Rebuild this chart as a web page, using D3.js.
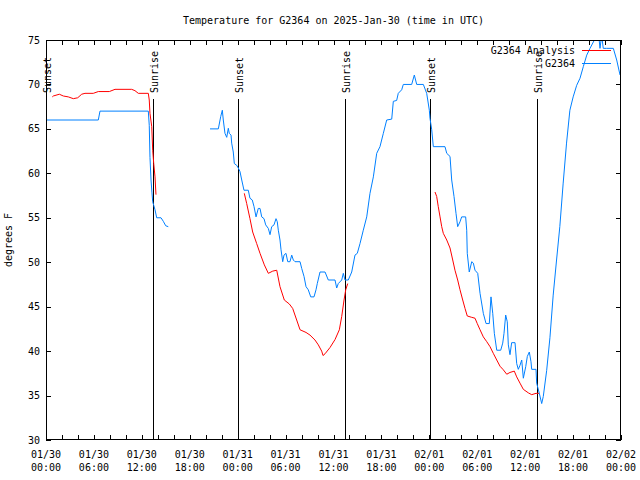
<!DOCTYPE html>
<html>
<head>
<meta charset="utf-8">
<script src="https://cdn.jsdelivr.net/npm/d3@7"></script>
<style>
  html, body { margin: 0; padding: 0; background: #fff; }
  text { font-family: "DejaVu Sans Mono", "Liberation Mono", monospace; fill: #000; }
</style>
</head>
<body>
<svg id="chart" width="640" height="480"></svg>
<script>
// ---- DATA (hours since 2025-01-30 00:00 UTC, temperatures in degrees F) ----
const title = "Temperature for G2364 on 2025-Jan-30 (time in UTC)";
const yLabel = "degrees F";
const yTicks = [30, 35, 40, 45, 50, 55, 60, 65, 70, 75];
const xTickHours = [0, 6, 12, 18, 24, 30, 36, 42, 48, 54, 60, 66, 72];
const xTickLabels = ["01/30\n00:00","01/30\n06:00","01/30\n12:00","01/30\n18:00","01/31\n00:00","01/31\n06:00","01/31\n12:00","01/31\n18:00","02/01\n00:00","02/01\n06:00","02/01\n12:00","02/01\n18:00","02/02\n00:00"];
const sunEventHours = [0.0, 13.45, 24.1, 37.48, 48.13, 61.42];
const sunEventNames = ["Sunset", "Sunrise", "Sunset", "Sunrise", "Sunset", "Sunrise"];
const seriesNames = ["G2364 Analysis", "G2364"];

// Analysis (red), three pieces
const analysis1Hours = [0.79,0.91,1.67,2.17,2.79,3.42,3.97,4.47,4.88,5.92,6.55,7.93,8.64,10.73,11.14,11.56,12.81,12.93,13.02,13.24,13.36,13.49,13.65,13.77];
const analysis1Temps = [68.6,68.7,68.9,68.7,68.6,68.4,68.5,68.9,69.0,69.0,69.2,69.2,69.45,69.45,69.3,69.0,69.0,68.25,66.75,65.25,62.6,61.1,59.6,57.6];
const analysis2Hours = [24.83,25.13,25.54,25.88,26.38,26.8,27.34,27.84,28.39,28.89,29.3,29.84,30.47,30.89,31.39,31.81,32.56,33.06,33.68,34.1,34.52,34.69,34.94,35.56,36.19,36.73,37.03,37.32,37.53,37.78];
const analysis2Temps = [57.75,56.6,54.9,53.4,52.1,51.0,49.7,48.75,49.0,49.1,47.25,45.75,45.3,44.8,43.5,42.4,42.1,41.8,41.25,40.7,40.0,39.5,39.7,40.4,41.3,42.4,43.9,45.75,46.9,47.6];
const analysis3Hours = [48.71,48.92,49.12,49.34,49.55,49.75,50.18,50.59,50.93,51.21,51.55,51.84,52.18,52.47,52.75,53.31,53.72,54.0,54.35,54.76,55.19,55.6,56.01,56.44,56.85,57.26,57.69,58.1,58.64,58.94,59.35,59.77,60.4,60.82,61.36,61.77];
const analysis3Temps = [57.9,57.4,56.25,55.1,54.0,53.25,52.5,51.6,50.25,49.1,48.0,46.9,45.75,44.8,43.95,43.8,43.7,43.1,42.4,41.6,41.06,40.5,39.75,39.0,38.3,37.9,37.4,37.6,37.75,37.1,36.4,35.7,35.3,35.1,35.25,35.25];

// Observations (blue), two pieces
const obs1Hours = [0,6.55,6.76,12.81,12.93,13.02,13.15,13.27,13.36,13.49,13.65,13.86,14.4,14.69,14.99,15.31];
const obs1Temps = [66,66,67,67,65.4,61.8,59.25,57.8,56.8,56.4,55.9,55.0,55.0,54.6,54.1,54.0];
const obs2Hours = [20.54,21.58,21.88,22.08,22.2,22.41,22.63,22.83,22.95,23.17,23.25,23.45,23.58,23.88,24.08,24.29,24.51,24.79,25.33,25.54,25.83,26.05,26.3,26.58,26.8,27.01,27.3,27.51,27.84,28.05,28.26,28.55,28.8,28.96,29.09,29.3,29.43,29.64,29.8,30.05,30.27,30.55,30.77,30.97,31.18,31.81,32.02,32.31,32.56,32.84,33.15,33.56,33.81,33.97,34.31,34.94,35.35,36.19,36.4,36.6,37.03,37.23,37.44,37.85,38.28,38.69,38.98,39.32,39.73,40.16,40.57,40.99,41.41,41.82,42.24,42.66,43.29,43.49,43.91,44.11,44.54,44.74,45.79,46.12,46.42,47.25,47.67,48.0,48.08,48.3,48.5,49.96,50.18,50.59,50.8,51.09,51.34,51.55,51.84,52.05,52.55,52.68,52.75,53.0,53.31,53.51,53.72,54.06,54.35,54.76,55.1,55.51,55.72,55.94,56.14,56.44,56.94,57.19,57.35,57.56,57.76,57.89,58.1,58.31,58.73,58.94,59.14,59.35,59.57,59.77,60.07,60.27,60.52,60.73,60.82,61.36,61.44,61.77,62.07,62.27,62.69,63.1,63.51,63.93,64.34,64.76,65.18,65.6,66.01,66.45,66.87,67.28,67.71,68.12,68.96,69.16,69.37,69.58,69.78,70.21,71.04,71.46,71.88];
const obs2Temps = [65,65,66.4,67.1,66.0,64.5,64.05,65.07,64.5,64.3,63.4,62.4,61.1,60.9,60.6,60.2,59.25,58.1,58.1,57.2,57.0,56.25,55.1,56.05,56.05,55.1,54.9,54.2,53.8,53.1,54.0,54.2,54.9,54.55,53.6,52.5,51.4,50.06,50.8,51.0,50.06,50.06,50.8,50.25,50.06,50.06,49.3,48.4,47.25,46.9,46.1,46.1,46.9,47.6,48.9,48.9,48.0,48.0,47.1,47.6,48.0,48.75,48.0,48.0,48.9,50.8,51.0,52.1,53.6,55.1,57.75,59.6,62.25,63.0,64.5,66.0,66.1,68.1,68.2,69.0,69.4,70.0,70.0,71.06,70.0,70.0,69.0,67.1,66.2,64.9,63.0,63.0,62.25,61.9,59.25,57.4,55.5,54.0,54.55,55.1,55.1,53.6,51.0,48.9,50.06,49.9,49.1,48.75,46.5,44.25,43.1,43.1,46.1,44.25,42.0,40.1,40.1,40.9,42.0,44.06,43.3,40.7,39.6,40.95,40.95,38.6,37.95,38.4,39.0,36.95,38.25,39.4,39.9,38.8,37.95,37.95,36.4,35.25,34.1,34.9,37.8,41.5,46.3,50.25,54.0,58.9,63.4,67.1,68.6,69.9,70.7,72.0,73.3,74.06,75.5,76.0,74.06,75.5,74.06,74.06,74.06,72.75,71.06];

// ---- CHART ----
const t0 = Date.UTC(2025, 0, 30);
const toDate = h => new Date(t0 + h * 3600e3);
const zip = (hs, ts) => hs.map((h, i) => ({ t: toDate(h), v: ts[i] }));

const W = 640, H = 480;
const m = { left: 46, right: 19, top: 40, bottom: 40 };
const svg = d3.select("#chart");

const x = d3.scaleUtc().domain([toDate(0), toDate(72)]).range([m.left, W - m.right]);
const y = d3.scaleLinear().domain([30, 75]).range([H - m.bottom, m.top]);

const colRed = "#ff0000", colBlue = "#0080ff";

// Clip
svg.append("defs").append("clipPath").attr("id", "clip")
  .append("rect").attr("x", m.left).attr("y", m.top)
  .attr("width", W - m.left - m.right).attr("height", H - m.top - m.bottom);

// Title
svg.append("text").attr("x", (m.left + W - m.right) / 2).attr("y", 24)
  .attr("text-anchor", "middle").style("font-size", "10px").text(title);

// Y axis label
svg.append("text").attr("transform", `translate(12,${(m.top + H - m.bottom) / 2}) rotate(-90)`)
  .attr("text-anchor", "middle").style("font-size", "10px").text(yLabel);

// X tick marks every 2 hours (bottom and top)
const minorHours = d3.range(0, 73, 2);
const tickG = svg.append("g").attr("shape-rendering", "crispEdges").attr("stroke", "#000");
minorHours.forEach(h => {
  const xx = Math.round(x(toDate(h))) + 0.5;
  tickG.append("line").attr("x1", xx).attr("x2", xx).attr("y1", H - m.bottom).attr("y2", H - m.bottom - 5);
  tickG.append("line").attr("x1", xx).attr("x2", xx).attr("y1", m.top).attr("y2", m.top + 5);
});
yTicks.forEach(v => {
  const yy = Math.round(y(v)) + 0.5;
  tickG.append("line").attr("x1", m.left).attr("x2", m.left + 5).attr("y1", yy).attr("y2", yy);
  tickG.append("line").attr("x1", W - m.right).attr("x2", W - m.right - 5).attr("y1", yy).attr("y2", yy);
});

// Y tick labels
svg.append("g").selectAll("text").data(yTicks).join("text")
  .attr("x", m.left - 6).attr("y", d => y(d)).attr("dy", "0.35em")
  .attr("text-anchor", "end").style("font-size", "10px").text(d => d);

// X tick labels (two lines)
const xl = svg.append("g").selectAll("text").data(xTickHours).join("text")
  .attr("x", d => x(toDate(d))).attr("y", H - m.bottom + 18)
  .attr("text-anchor", "middle").style("font-size", "10px");
xl.each(function (d, i) {
  const parts = xTickLabels[i].split("\n");
  d3.select(this).append("tspan").attr("x", x(toDate(d))).text(parts[0]);
  d3.select(this).append("tspan").attr("x", x(toDate(d))).attr("dy", 13).text(parts[1]);
});

// Sunrise / sunset lines and labels
const sunG = svg.append("g");
sunEventHours.forEach((h, i) => {
  const xx = Math.round(x(toDate(h))) + 0.5;
  sunG.append("line").attr("x1", xx).attr("x2", xx).attr("y1", 99).attr("y2", H - m.bottom)
    .attr("stroke", "#000").attr("shape-rendering", "crispEdges");
  sunG.append("text").attr("transform", `translate(${xx + 4.5},93) rotate(-90)`)
    .attr("text-anchor", "start").style("font-size", "10px").text(sunEventNames[i]);
});

// Lines
const line = d3.line().x(d => x(d.t)).y(d => y(d.v));
const plotG = svg.append("g").attr("clip-path", "url(#clip)");
[[analysis1Hours, analysis1Temps], [analysis2Hours, analysis2Temps], [analysis3Hours, analysis3Temps]].forEach(([hs, ts]) => {
  plotG.append("path").datum(zip(hs, ts)).attr("d", line)
    .attr("fill", "none").attr("stroke", colRed).attr("stroke-width", 1);
});
[[obs1Hours, obs1Temps], [obs2Hours, obs2Temps]].forEach(([hs, ts]) => {
  plotG.append("path").datum(zip(hs, ts)).attr("d", line)
    .attr("fill", "none").attr("stroke", colBlue).attr("stroke-width", 1);
});

// Frame
svg.append("rect").attr("x", m.left + 0.5).attr("y", m.top + 0.5)
  .attr("width", W - m.left - m.right - 1).attr("height", H - m.top - m.bottom - 1)
  .attr("fill", "none").attr("stroke", "#000").attr("shape-rendering", "crispEdges");

// Legend
const legend = svg.append("g");
seriesNames.forEach((name, i) => {
  const ly = 50 + i * 13;
  legend.append("text").attr("x", 575).attr("y", ly).attr("dy", "0.35em")
    .attr("text-anchor", "end").style("font-size", "10px").text(name);
  legend.append("line").attr("x1", 582).attr("x2", 611).attr("y1", ly + 0.5).attr("y2", ly + 0.5)
    .attr("stroke", i === 0 ? colRed : colBlue).attr("shape-rendering", "crispEdges");
});
</script>
</body>
</html>
